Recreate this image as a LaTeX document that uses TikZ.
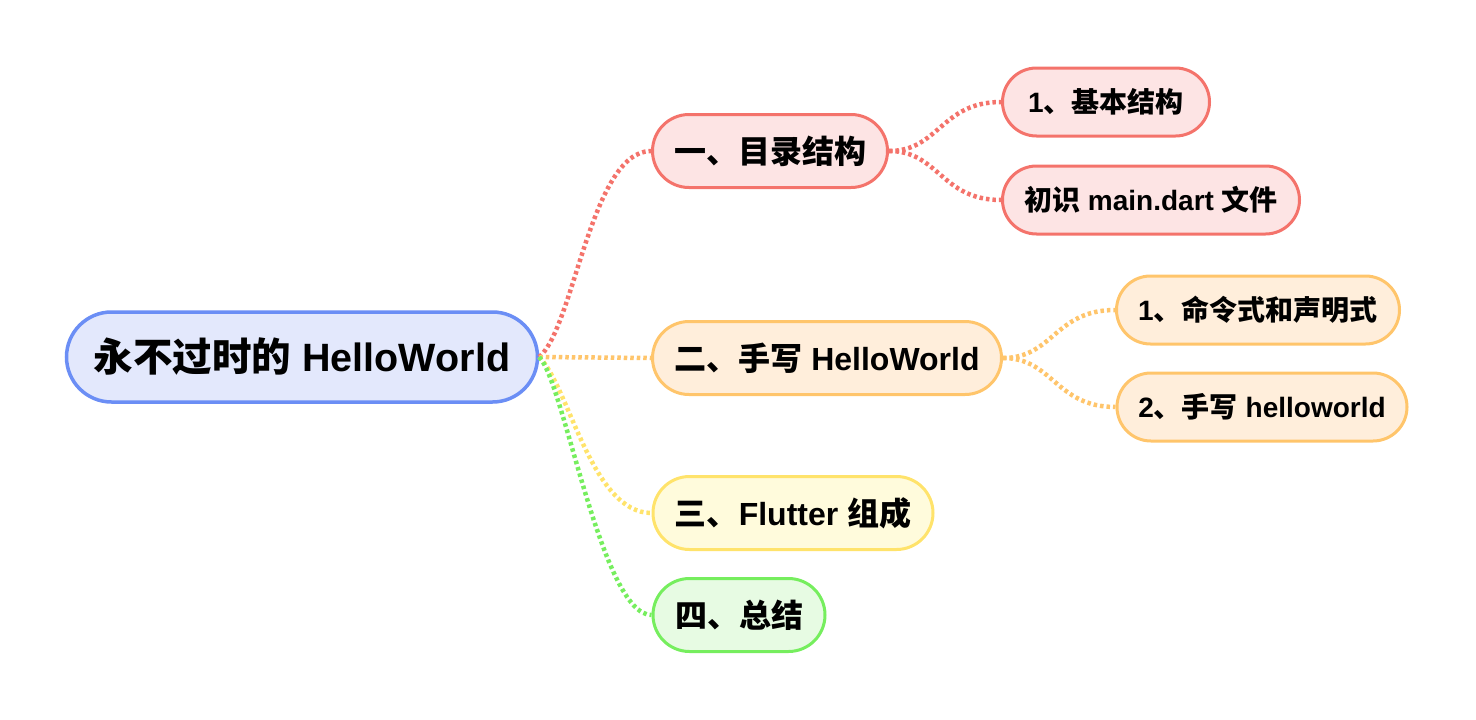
\documentclass[tikz,border=0pt]{standalone}
\usepackage{fontspec}
\setmainfont{Liberation Sans}
\newfontfamily\cjk{Noto Sans CJK SC}
\newcommand{\C}[1]{{\cjk\bfseries #1}}
\definecolor{rootB}{HTML}{6B8EF5}
\definecolor{rootF}{HTML}{E3E8FC}
\definecolor{redB}{HTML}{F4736B}
\definecolor{redF}{HTML}{FDE4E4}
\definecolor{orgB}{HTML}{FFC56B}
\definecolor{orgF}{HTML}{FFEEDB}
\definecolor{yelB}{HTML}{FFE36B}
\definecolor{yelF}{HTML}{FFFBDC}
\definecolor{grnB}{HTML}{76EE5E}
\definecolor{grnF}{HTML}{E7FBE3}
\tikzset{
  pill/.style={draw, rectangle, line width=3pt, inner sep=0pt, align=center, font=\bfseries},
  rootnode/.style={pill, draw=rootB, fill=rootF, line width=3.5pt, minimum height=90pt, rounded corners=45pt, font=\bfseries\fontsize{39.5}{41}\selectfont},
  lvA/.style={pill, minimum height=73pt, rounded corners=36.5pt, font=\bfseries\fontsize{32}{34}\selectfont},
  lvB/.style={pill, minimum height=68pt, rounded corners=34pt, font=\bfseries\fontsize{28}{30}\selectfont},
  link/.style={line width=4.5pt, dash pattern=on 3.5pt off 3pt},
}
\begin{document}
\begin{tikzpicture}[x=1pt,y=-1pt]
\useasboundingbox (0,0) rectangle (1476,720);
\node[rootnode, minimum width=471pt] (root) at (302,357) {\C{永不过时的} HelloWorld};
\node[lvA, draw=redB, fill=redF, minimum width=235pt] (a) at (770,151) {\C{一、目录结构}};
\node[lvB, draw=redB, fill=redF, minimum width=207pt] (a1) at (1106,102) {1\C{、基本结构}};
\node[lvB, draw=redB, fill=redF, minimum width=297pt] (a2) at (1151,200) {\C{初识} main.dart \C{文件}};
\node[lvA, draw=orgB, fill=orgF, minimum width=349pt] (b) at (827,358) {\C{二、手写} HelloWorld};
\node[lvB, draw=orgB, fill=orgF, minimum width=283pt] (b1) at (1258,310) {1\C{、命令式和声明式}};
\node[lvB, draw=orgB, fill=orgF, minimum width=290pt] (b2) at (1262,407) {2\C{、手写} helloworld};
\node[lvA, draw=yelB, fill=yelF, minimum width=280pt] (c) at (793,513) {\C{三、}Flutter \C{组成}};
\node[lvA, draw=grnB, fill=grnF, minimum width=172pt] (d) at (739,615) {\C{四、总结}};
\draw[link, draw=redB] (root.east) .. controls +(35,-30) and +(-60,0) .. (a.west);
\draw[link, draw=orgB] (root.east) -- (b.west);
\draw[link, draw=yelB] (root.east) .. controls +(30,30) and +(-60,0) .. (c.west);
\draw[link, draw=grnB] (root.east) .. controls +(25,25) and +(-50,0) .. (d.west);
\draw[link, draw=redB] (a.east) .. controls +(50,0) and +(-60,0) .. (a1.west);
\draw[link, draw=redB] (a.east) .. controls +(50,0) and +(-60,0) .. (a2.west);
\draw[link, draw=orgB] (b.east) .. controls +(50,0) and +(-60,0) .. (b1.west);
\draw[link, draw=orgB] (b.east) .. controls +(50,0) and +(-60,0) .. (b2.west);
\end{tikzpicture}
\end{document}
